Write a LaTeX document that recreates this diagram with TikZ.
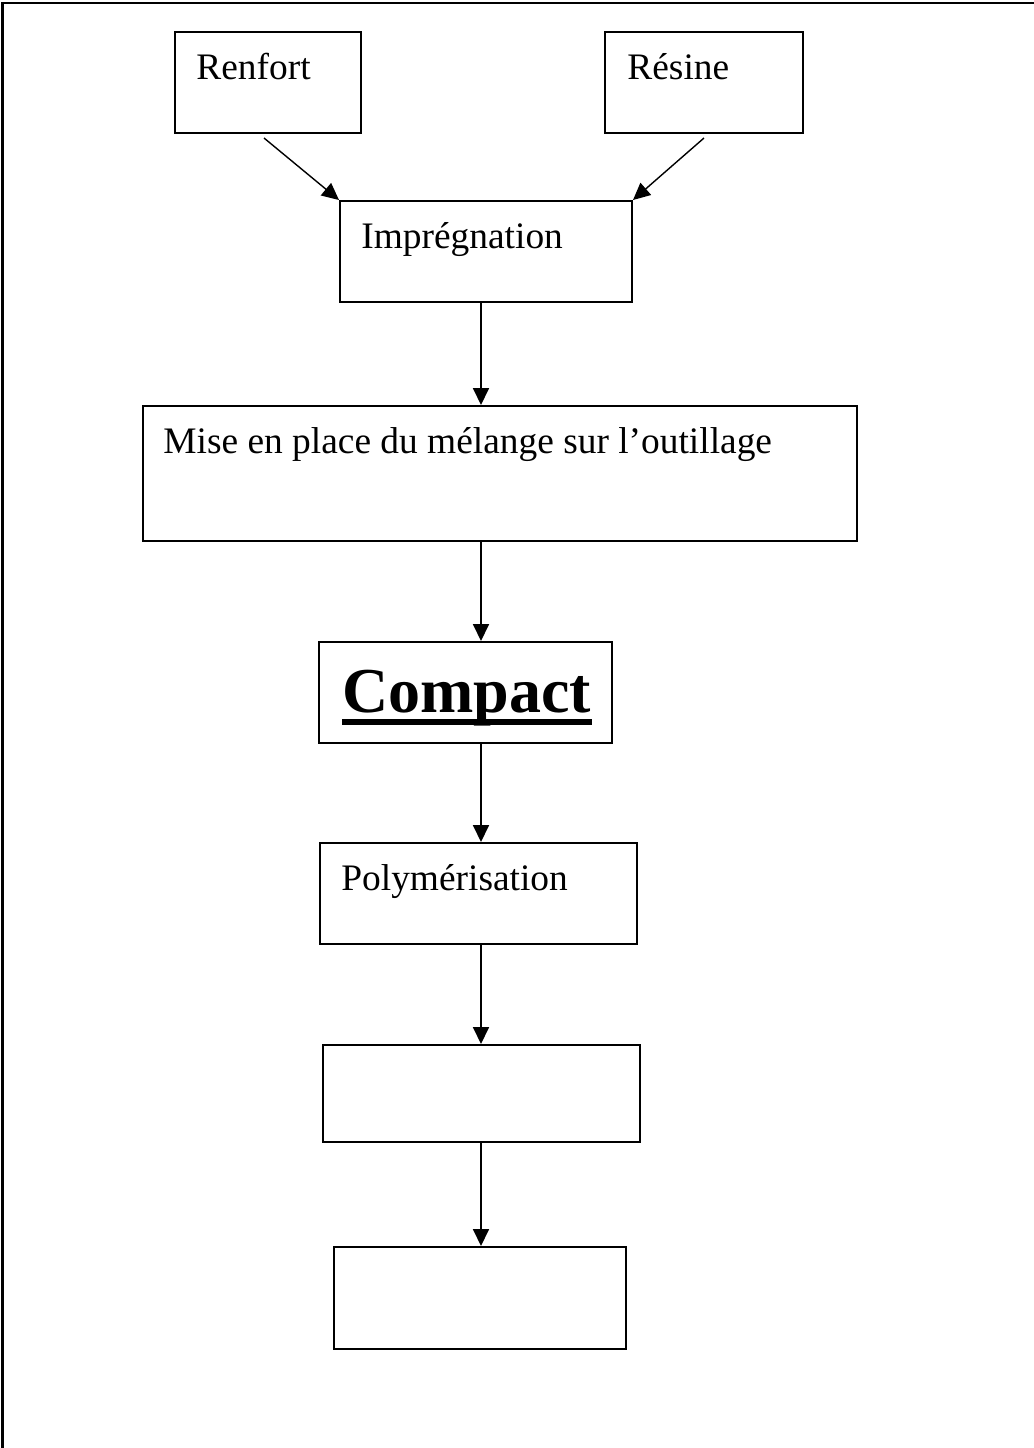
\documentclass[tikz,border=0pt]{standalone}
\usepackage{fontspec}
\setmainfont{Liberation Serif}
\usetikzlibrary{arrows.meta}

\begin{document}
\begin{tikzpicture}[
  x=.5pt,y=-.5pt,
  box/.style={draw,line width=1pt,inner sep=0pt},
  lbl/.style={anchor=base west,inner sep=0pt,font=\fontsize{18.7}{22}\selectfont},
  link/.style={line width=.9pt,-{Triangle[width=8pt,length=8.5pt]}}
]
\useasboundingbox (0,0) rectangle (1034,1448);
\draw[line width=1.3pt] (2.5,1448) -- (2.5,3) -- (1034,3);
\node[box,minimum width=93pt,minimum height=50.5pt] (renfort) at (268,82.5) {};
\node[box,minimum width=99pt,minimum height=50.5pt] (resine) at (704,82.5) {};
\node[box,minimum width=146pt,minimum height=50.5pt] (impr) at (486,251.5) {};
\node[box,minimum width=357pt,minimum height=67.5pt] (mise) at (500,473.5) {};
\node[box,minimum width=146.5pt,minimum height=50.5pt] (compact) at (465.5,692.5) {};
\node[box,minimum width=158.5pt,minimum height=50.5pt] (poly) at (478.5,893.5) {};
\node[box,minimum width=158.5pt,minimum height=48.5pt] (etapeA) at (481.5,1093.5) {};
\node[box,minimum width=146pt,minimum height=51pt] (etapeB) at (480,1298) {};
\node[lbl] (trenfort) at (196,79) {Renfort};
\node[lbl] (tresine) at (627,79) {Résine};
\node[lbl] (timpr) at (361,248) {Imprégnation};
\node[lbl] (tmise) at (163,453) {Mise en place du mélange sur l’outillage};
\node[lbl,font=\fontsize{32}{37}\selectfont\bfseries] (tcompact) at (342,712) {Compact};
\draw[line width=3pt] ([yshift=-4.75pt]tcompact.base west) -- ([yshift=-4.75pt]tcompact.base east);
\node[lbl] (tpoly) at (341,890) {Polymérisation};
\draw[link,line width=.7pt] ([xshift=-2pt,yshift=-2pt]renfort.south) -- (impr.north west);
\draw[link,line width=.7pt] ([yshift=-2pt]resine.south) -- (impr.north east);
\coordinate (spine) at (481,0);
\foreach \a/\b in {impr/mise,mise/compact,compact/poly,poly/etapeA,etapeA/etapeB}
  \draw[link] (\a.south -| spine) -- (\b.north -| spine);
\end{tikzpicture}
\end{document}
